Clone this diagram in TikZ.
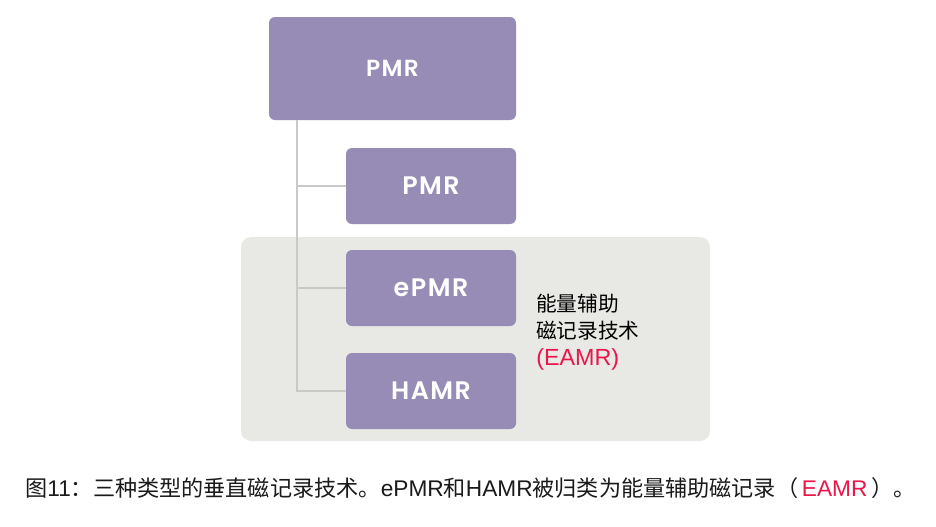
\documentclass[tikz,border=0pt]{standalone}
\usepackage{fontspec}
\setmainfont{Noto Sans CJK SC}
\newfontfamily\boxfont[UprightFont={* SemiBold}, LetterSpace=6]{Poppins}
\newfontfamily\latinfont{Liberation Sans}
\newcommand\latn[1]{{\latinfont\fontsize{17}{19}\selectfont #1}}
\usetikzlibrary{positioning}
\definecolor{lavender}{HTML}{968CB5}
\definecolor{panelgray}{HTML}{E8E9E5}
\definecolor{treegray}{HTML}{C9CAC8}
\definecolor{eamrred}{HTML}{E8174A}
\definecolor{captext}{HTML}{1A1A1A}

\begin{document}
\begin{tikzpicture}[x=0.75pt, y=-0.75pt,
  techbox/.style={fill=lavender, rounded corners=4.5pt, inner sep=0pt,
    text=white, font=\boxfont\fontsize{19}{21}\selectfont},
  branch/.style={treegray, line width=0.9pt}]

% Canvas
\useasboundingbox (0,0) rectangle (936,526);
\fill[white] (0,0) rectangle (936,526);

% ================================================================
% EAMR group panel
% ================================================================
\fill[panelgray, rounded corners=7.5pt] (241,237) rectangle (710,441);

% Boxes
\node[techbox, minimum width=185.25pt, minimum height=77.25pt,
      font=\boxfont\fontsize{17.5}{19}\selectfont]
  (pmrtop) at (392.5,68.5) {PMR};
\node[techbox, minimum width=127.5pt, minimum height=57pt] (pmr) at (431,186) {PMR};
\node[techbox, minimum width=127.5pt, minimum height=57pt] (epmr) at (431,288) {ePMR};
\node[techbox, minimum width=127.5pt, minimum height=57pt] (hamr) at (431,391) {HAMR};

% Tree lines
\coordinate (trunk) at (297,120);
\draw[branch] (trunk) |- (hamr.west);
\draw[branch] (trunk |- pmr.west) -- (pmr.west);
\draw[branch] (trunk |- epmr.west) -- (epmr.west);

% Group label
\node[anchor=north west, align=left, inner sep=0pt, text=black,
      font=\fontsize{15.5}{20.25}\selectfont]
  (eamr) at (536,294)
  {能量辅助\\磁记录技术\\\textcolor{eamrred}{\latinfont\fontsize{17.5}{21}\selectfont(EAMR)}};

% ================================================================
% Caption
% ================================================================
\node[anchor=base west, inner sep=0pt, text=captext,
      font=\fontsize{16.6}{19}\selectfont]
  (caption) at (25,496)
  {图\latn{11}：三种类型的垂直磁记录技术。\latn{ePMR}和\latn{HAMR}被归类为能量辅助磁记录（\,\textcolor{eamrred}{\latn{EAMR}}\,）。};

\end{tikzpicture}
\end{document}
